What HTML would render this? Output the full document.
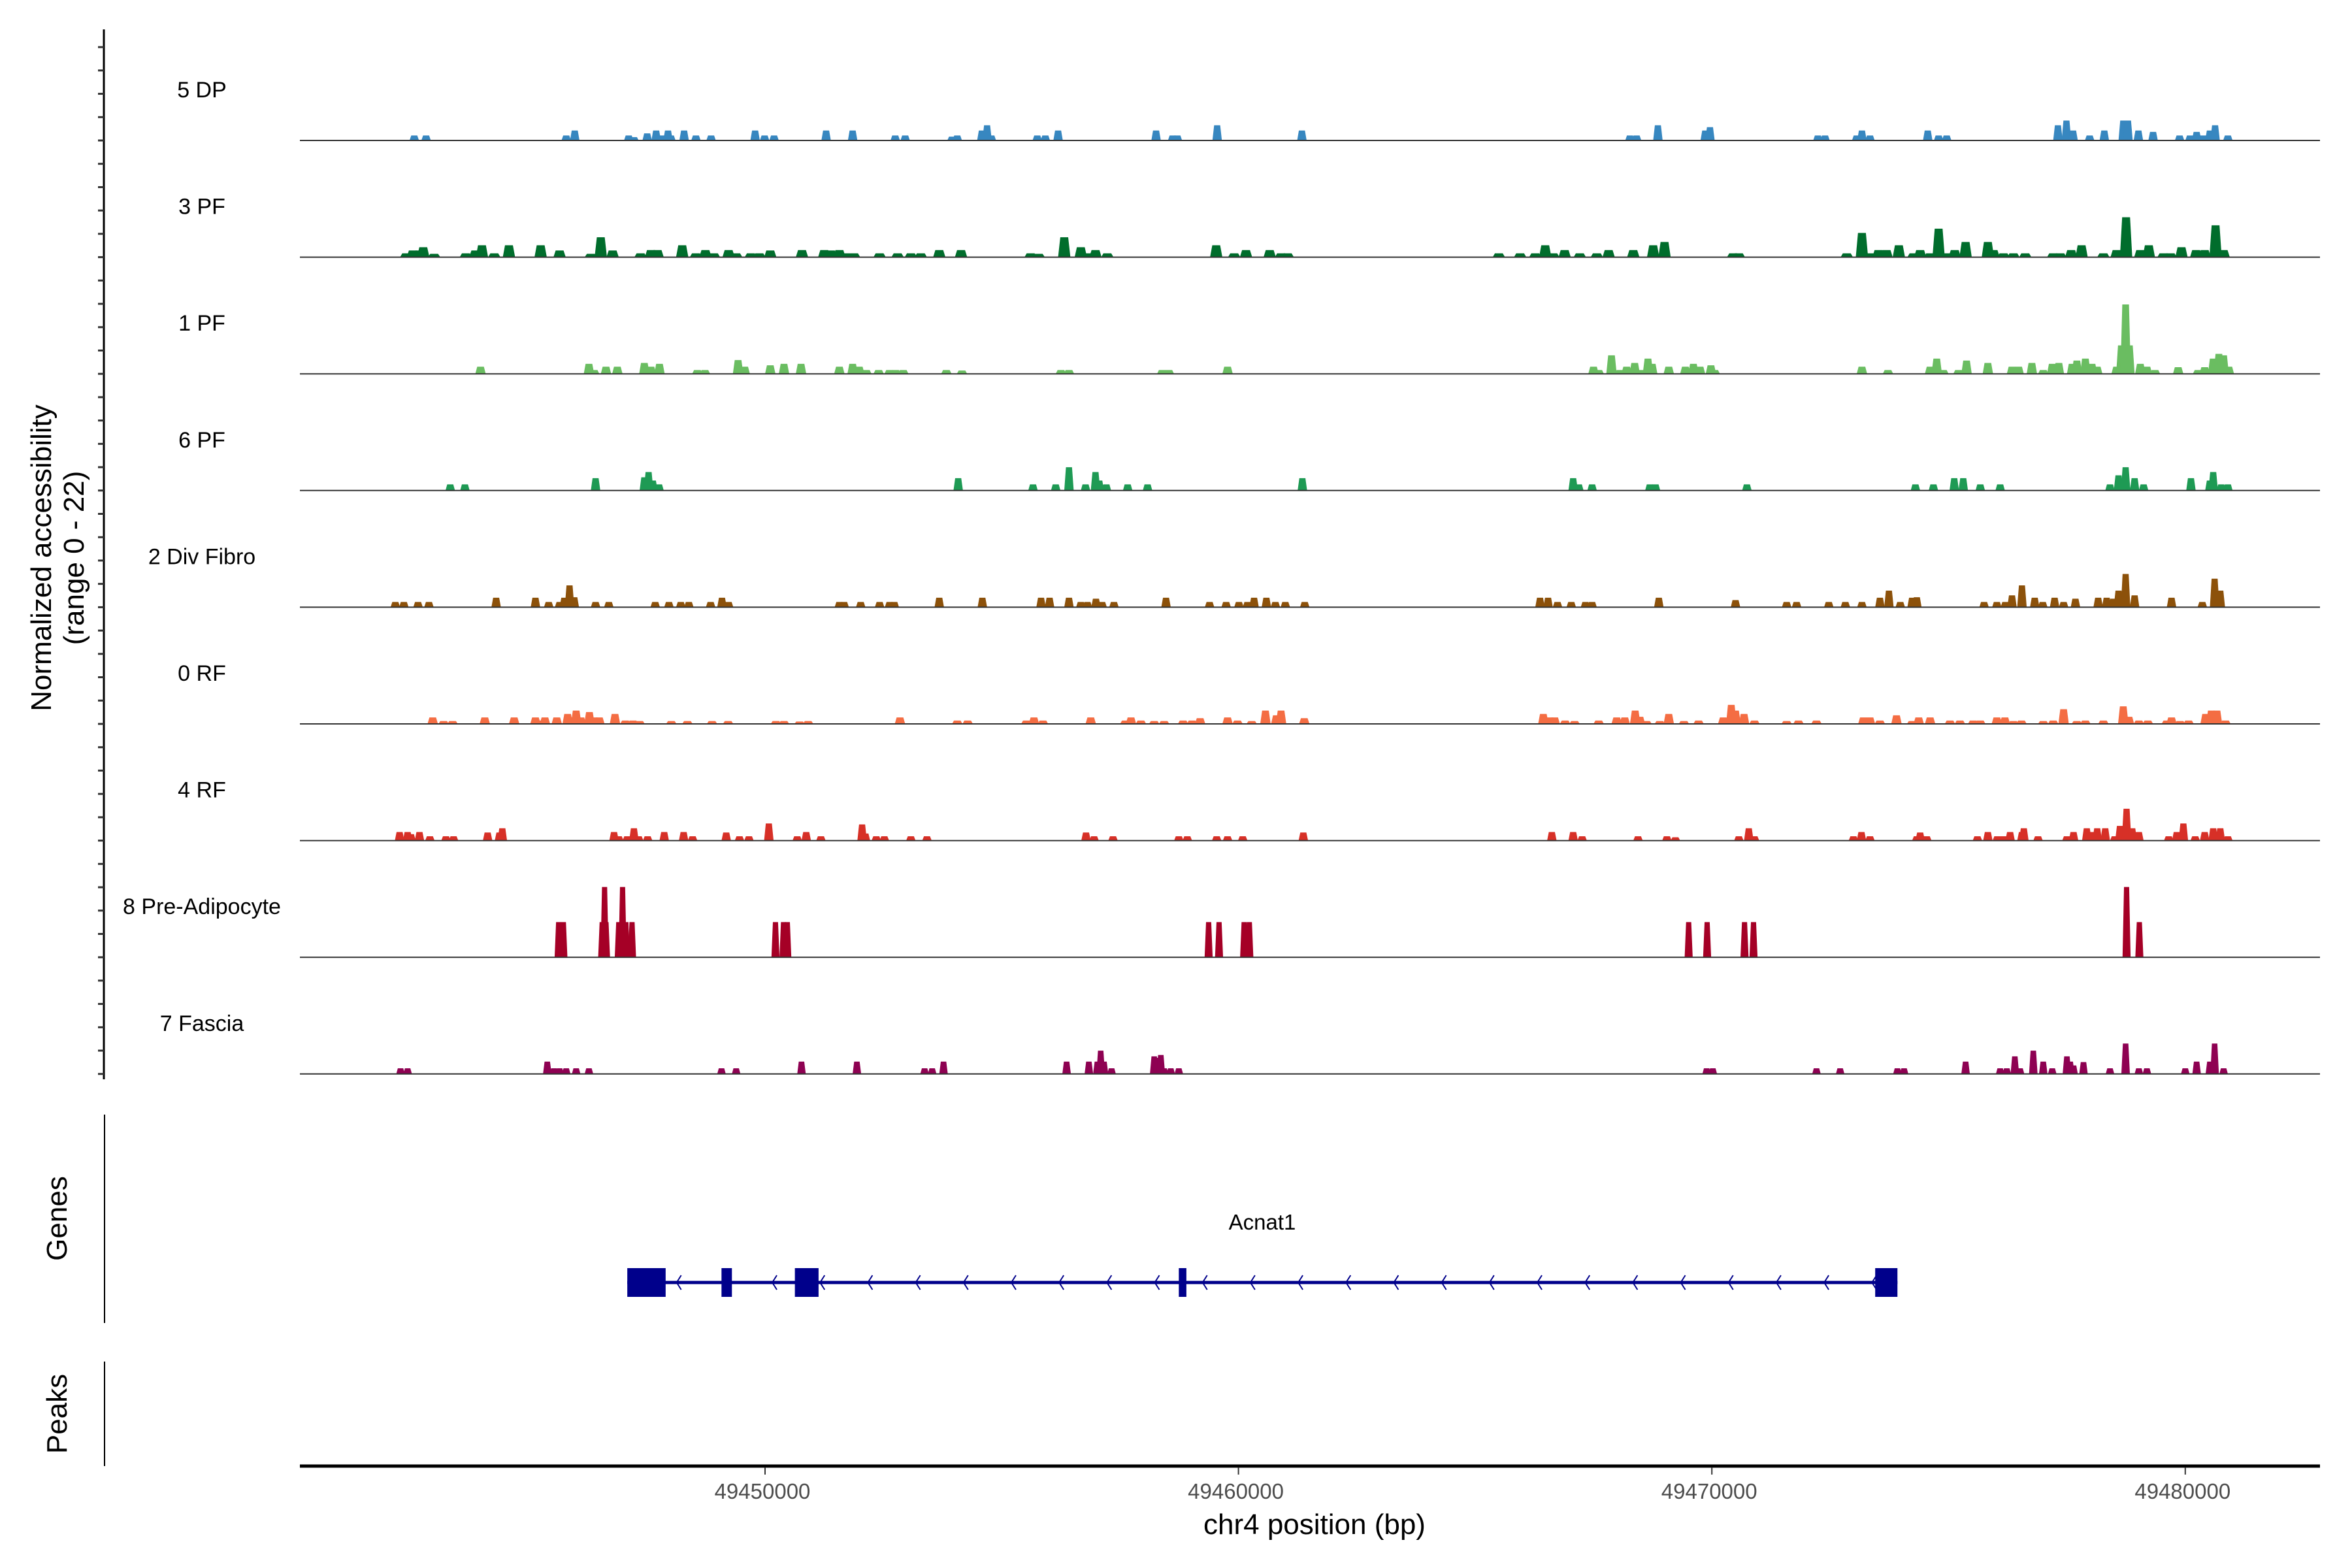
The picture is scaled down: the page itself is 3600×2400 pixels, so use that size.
<!DOCTYPE html>
<html><head><meta charset="utf-8">
<style>
html,body{margin:0;padding:0;background:#fff;}
svg{display:block;font-family:"Liberation Sans",Arial,sans-serif;}
</style></head>
<body>
<svg id="chart" width="3600" height="2400" viewBox="0 0 3600 2400" xmlns="http://www.w3.org/2000/svg">
<g id="tracks"></g>
<g id="axes"></g>
<g id="genes"></g>
<text transform="translate(78,854) rotate(-90)" text-anchor="middle" font-size="44" fill="#000">Normalized accessibility</text>
<text transform="translate(128,854) rotate(-90)" text-anchor="middle" font-size="44" fill="#000">(range 0 - 22)</text>
<text transform="translate(102,1865) rotate(-90)" text-anchor="middle" font-size="44" fill="#000">Genes</text>
<text transform="translate(102,2164) rotate(-90)" text-anchor="middle" font-size="44" fill="#000">Peaks</text>
<text x="2012" y="2348" text-anchor="middle" font-size="44" fill="#000">chr4 position (bp)</text>
</svg>
<script>
// ---- data ----
const trackNames = ["5 DP","3 PF","1 PF","6 PF","2 Div Fibro","0 RF","4 RF","8 Pre-Adipocyte","7 Fascia"];
const trackColors = ["#3787c0","#006d2c","#6abd61","#1e9a54","#8c510a","#f46d43","#d73027","#a50026","#8e0152"];
const xTicksKb = [50,60,70,80];
const xTickLabels = ["49450000","49460000","49470000","49480000"];
const baseBp = 49400000;
const yMax = 22;

const dp5 = [[42.59,1.05],[42.84,1.05],[45.80,1.05],[45.98,2.1],[47.12,1.05],[47.23,0.7],[47.51,1.5],[47.70,2.1],[47.84,1.05],[47.95,2.1],[48.01,1.05],[48.29,2.1],[48.54,1.05],[48.86,1.05],[49.79,2.1],[49.99,1.05],[50.19,1.05],[51.29,2.1],[51.85,2.1],[52.75,1.05],[52.96,1.05],[53.95,0.8],[54.06,1.05],[54.58,2.1],[54.69,3.2],[54.78,1.05],[55.75,1.05],[55.92,1.05],[56.19,2.1],[58.26,2.1],[58.61,1.05],[58.71,1.05],[59.55,3.2],[61.34,2.1],
[68.27,1.05],[68.41,1.05],[68.86,3.2],[69.86,2.1],[69.96,2.8],[72.24,1.05],[72.39,1.05],[73.06,1.05],[73.17,2.1],[73.34,1.05],[74.56,2.1],[74.79,1.05],[74.96,1.05],[77.31,3.2],[77.49,4.2],[77.63,2.1],[77.98,1.05],[78.29,2.1],[78.69,4.2],[78.79,4.2],[79.01,2.1],[79.32,1.8],[79.88,1.05],[80.10,1.05],[80.24,1.8],[80.38,1.05],[80.52,2.1],[80.63,3.2],[80.90,1.05]];

const pf3 = [[42.42,0.8],[42.56,1.4],[42.70,1.4],[42.78,2.1],[43.01,0.7],[43.68,0.8],[43.88,1.4],[44.02,2.5],[44.28,0.8],[44.59,2.5],[45.26,2.5],[45.66,1.4],[46.32,0.7],[46.53,4.2],[46.78,1.4],[47.37,0.8],[47.59,1.5],[47.73,1.5],[48.25,2.5],[48.54,0.8],[48.74,1.5],[48.92,0.8],[49.23,1.5],[49.39,0.8],[49.70,0.8],[49.88,0.8],[50.11,1.4],[50.78,1.5],[51.25,1.5],[51.39,1.4],[51.57,1.5],[51.71,0.8],[51.88,0.8],[52.42,0.8],[52.80,0.8],[53.08,0.8],[53.29,0.8],[53.68,1.5],[54.14,1.5],[55.61,0.8],[55.78,0.7],[56.32,4.2],[56.67,2.1],[56.81,0.8],[56.98,1.5],[57.23,0.8],[59.53,2.5],[59.91,0.8],[60.16,1.5],[60.66,1.5],[60.90,0.8],[61.04,0.8],
[65.50,0.8],[65.95,0.8],[66.27,0.8],[66.48,2.5],[66.65,0.8],[66.89,1.5],[67.21,0.8],[67.57,0.8],[67.82,1.5],[68.34,1.5],[68.76,2.5],[69.00,3.2],[70.45,0.8],[70.57,0.8],[72.85,0.8],[73.17,5.1],[73.34,0.8],[73.52,1.5],[73.69,1.5],[73.95,2.5],[74.26,0.8],[74.40,1.5],[74.61,0.8],[74.79,6.0],[74.99,0.8],[75.13,1.5],[75.36,3.2],[75.83,3.2],[75.95,1.5],[76.16,0.8],[76.37,0.8],[76.62,0.8],[77.21,0.8],[77.36,0.8],[77.59,1.5],[77.81,2.5],[78.27,0.8],[78.55,1.5],[78.75,8.4],[79.05,1.5],[79.23,2.5],[79.54,0.8],[79.69,0.8],[79.92,2.1],[80.23,1.5],[80.41,1.5],[80.64,6.7],[80.81,1.5]];

const pf1 = [[43.99,1.5],[46.28,2.1],[46.39,0.8],[46.64,1.5],[46.88,1.5],[47.45,2.3],[47.59,1.5],[47.77,2.1],[48.57,0.8],[48.73,0.8],[49.43,2.9],[49.57,1.5],[50.11,1.8],[50.40,2.1],[50.76,2.1],[51.57,1.5],[51.85,2.1],[51.99,1.5],[52.14,0.8],[52.40,0.8],[52.63,0.8],[52.76,0.8],[52.92,0.8],[53.83,0.8],[54.16,0.7],[56.25,0.8],[56.42,0.8],[58.39,0.8],[58.53,0.8],[59.77,1.5],
[67.50,1.5],[67.61,0.8],[67.88,3.9],[68.06,0.8],[68.20,1.5],[68.37,2.3],[68.48,0.8],[68.65,3.2],[68.74,2.1],[69.09,1.5],[69.44,1.5],[69.61,2.1],[69.75,1.5],[69.98,1.8],[70.06,0.8],[73.17,1.5],[73.72,0.8],[74.61,1.5],[74.75,3.2],[74.89,0.8],[75.21,0.8],[75.38,2.8],[75.83,2.3],[76.34,1.5],[76.48,1.5],[76.76,2.3],[77.00,0.8],[77.19,2.1],[77.33,2.3],[77.61,2.1],[77.71,2.8],[77.89,3.2],[78.03,2.1],[78.14,1.5],[78.55,1.5],[78.65,6.0],[78.74,14.6],[78.82,6.0],[79.05,2.1],[79.19,1.5],[79.36,0.8],[79.85,1.4],[80.27,0.8],[80.41,1.4],[80.59,3.2],[80.71,4.2],[80.81,3.9],[80.92,1.5]];

const pf6 = [[43.35,1.3],[43.66,1.3],[46.42,2.6],[47.45,2.8],[47.54,3.9],[47.63,2.1],[47.76,1.3],[54.08,2.6],[55.66,1.3],[56.14,1.3],[56.42,4.9],[56.77,1.3],[56.98,3.9],[57.06,2.1],[57.21,1.3],[57.66,1.3],[58.08,1.3],[61.35,2.6],
[67.07,2.6],[67.19,1.3],[67.47,1.3],[68.69,1.3],[68.81,1.3],[70.74,1.3],[74.30,1.3],[74.68,1.3],[75.12,2.6],[75.31,2.6],[75.67,1.3],[76.09,1.3],[78.41,1.3],[78.59,3.2],[78.74,4.9],[78.93,2.6],[79.12,1.3],[80.12,2.6],[80.52,2.1],[80.59,3.9],[80.76,1.3],[80.90,1.3]];

const divFibro2 = [[42.19,1.1],[42.37,1.1],[42.67,1.1],[42.90,1.1],[44.32,2.0],[45.15,2.0],[45.43,1.1],[45.66,1.1],[45.76,2.0],[45.87,4.6],[45.97,2.1],[46.42,1.1],[46.70,1.1],[47.68,1.1],[47.97,1.1],[48.22,1.1],[48.39,1.1],[48.85,1.1],[49.09,2.0],[49.23,1.1],[51.57,1.1],[51.67,1.1],[52.02,1.1],[52.42,1.1],[52.63,1.1],[52.73,1.1],[53.68,2.0],[54.59,2.0],[55.83,2.0],[56.01,2.0],[56.42,2.0],[56.67,1.1],[56.81,1.1],[56.99,1.8],[57.12,1.1],[57.37,1.1],[58.47,2.0],[59.39,1.1],[59.74,1.1],[60.01,1.1],[60.19,1.1],[60.33,2.0],[60.59,2.0],[60.78,1.1],[60.99,1.1],[61.40,1.1],
[66.37,2.0],[66.54,2.0],[66.74,1.1],[67.03,1.1],[67.33,1.1],[67.47,1.1],[68.88,2.0],[70.50,1.5],[71.58,1.1],[71.79,1.1],[72.47,1.1],[72.82,1.1],[73.17,1.1],[73.55,2.0],[73.74,3.5],[73.98,1.1],[74.23,2.0],[74.33,2.1],[75.75,1.1],[76.02,1.1],[76.20,1.1],[76.34,2.5],[76.55,4.6],[76.82,2.0],[76.99,1.1],[77.24,2.0],[77.43,1.1],[77.68,1.8],[78.16,2.0],[78.34,2.0],[78.48,1.8],[78.59,3.5],[78.74,7.0],[78.93,2.5],[79.71,2.0],[80.36,1.1],[80.62,6.0],[80.74,3.5]];

const rf0 = [[42.98,1.35],[43.21,0.6],[43.40,0.6],[44.08,1.35],[44.70,1.35],[45.15,1.35],[45.26,0.7],[45.35,1.35],[45.60,1.35],[45.83,2.1],[45.94,1.35],[46.01,2.8],[46.11,1.35],[46.29,2.5],[46.39,1.35],[46.50,1.35],[46.83,2.1],[47.05,0.7],[47.21,0.7],[47.35,0.6],[48.02,0.6],[48.36,0.6],[48.88,0.6],[49.22,0.6],[50.23,0.6],[50.40,0.6],[50.73,0.5],[50.91,0.6],[52.85,1.35],[54.06,0.7],[54.28,0.7],[55.52,0.7],[55.68,1.35],[55.87,0.7],[56.88,1.35],[57.61,0.7],[57.73,1.35],[57.94,0.7],[58.22,0.6],[58.43,0.6],[58.83,0.7],[59.02,0.7],[59.19,1.2],[59.77,1.35],[59.98,0.7],[60.28,0.6],[60.57,2.8],[60.80,1.8],[60.90,2.8],[61.39,1.2],
[66.44,2.1],[66.58,1.35],[66.68,1.35],[66.90,0.7],[67.10,0.6],[67.61,0.7],[67.99,1.35],[68.16,1.35],[68.38,2.8],[68.48,1.5],[68.62,0.6],[68.90,0.6],[69.09,2.1],[69.41,0.6],[69.72,0.7],[70.24,1.35],[70.41,4.0],[70.50,2.8],[70.68,2.1],[70.90,0.7],[71.58,0.6],[71.83,0.7],[72.21,0.7],[73.20,1.35],[73.34,1.35],[73.55,0.7],[73.90,1.8],[74.23,0.6],[74.37,1.35],[74.61,1.35],[75.03,0.7],[75.24,0.7],[75.52,0.7],[75.67,0.7],[76.02,1.35],[76.19,1.35],[76.37,0.6],[76.54,0.7],[77.00,0.6],[77.21,0.7],[77.43,3.1],[77.71,0.6],[77.89,0.7],[78.27,0.7],[78.69,3.7],[78.81,1.5],[79.02,0.7],[79.21,0.7],[79.61,0.7],[79.71,1.35],[79.89,0.6],[80.07,0.7],[80.43,2.1],[80.55,2.8],[80.67,2.8],[80.85,0.7]];

const rf4 = [[42.28,1.8],[42.45,1.8],[42.52,1.35],[42.70,1.8],[42.92,0.9],[43.26,0.9],[43.42,0.9],[44.14,1.7],[44.39,1.7],[44.45,2.6],[46.81,1.8],[46.91,0.9],[47.09,0.9],[47.23,2.6],[47.33,0.9],[47.52,0.9],[47.87,1.8],[48.28,1.8],[48.47,0.9],[49.18,1.7],[49.46,0.9],[49.66,0.9],[50.08,3.6],[50.68,0.9],[50.87,1.8],[51.18,0.9],[52.05,3.4],[52.12,1.5],[52.35,0.9],[52.52,0.9],[53.08,0.9],[53.42,0.9],[56.78,1.7],[56.95,0.9],[57.35,0.9],[58.74,0.9],[58.92,0.9],[59.54,0.9],[59.77,0.9],[60.09,0.9],[61.37,1.7],
[66.62,1.8],[67.07,1.8],[67.26,0.9],[68.44,0.9],[69.05,0.9],[69.23,0.7],[70.57,0.9],[70.78,2.6],[70.90,0.9],[72.99,0.9],[73.16,1.8],[73.34,0.9],[74.33,0.9],[74.40,1.7],[74.54,0.9],[75.61,0.9],[75.83,1.8],[76.03,0.9],[76.16,0.9],[76.30,1.8],[76.55,1.8],[76.59,2.6],[76.89,0.9],[77.50,0.9],[77.64,1.8],[77.92,2.6],[78.00,1.8],[78.14,2.6],[78.31,2.6],[78.51,0.9],[78.62,3.1],[78.76,6.7],[78.88,2.6],[79.02,1.8],[79.65,0.9],[79.82,1.8],[79.96,3.6],[80.21,0.9],[80.41,1.8],[80.59,2.6],[80.74,2.6],[80.90,0.9]];

const preAdipo8 = [[45.64,7.4],[45.74,7.4],[46.56,7.4],[46.61,14.8],[46.64,7.4],[46.91,7.4],[46.99,14.8],[47.06,7.4],[47.19,7.4],[50.22,7.4],[50.39,7.4],[50.47,7.4],[59.37,7.4],[59.59,7.4],[60.12,7.4],[60.23,7.4],
[69.51,7.4],[69.90,7.4],[70.69,7.4],[70.88,7.4],[78.76,14.8],[79.03,7.4]];

const fascia7 = [[42.30,1.2],[42.45,1.2],[45.40,2.6],[45.54,1.2],[45.66,1.2],[45.80,1.2],[46.01,1.2],[46.28,1.2],[49.08,1.2],[49.39,1.2],[50.77,2.6],[51.94,2.6],[53.37,1.2],[53.53,1.2],[53.77,2.6],[56.37,2.6],[56.84,2.6],[57.02,2.6],[57.09,4.9],[57.16,2.6],[57.32,1.2],[58.22,3.7],[58.29,3.4],[58.36,4.0],[58.43,1.2],[58.57,1.2],[58.74,1.2],
[69.89,1.2],[70.02,1.2],[72.21,1.2],[72.71,1.2],[73.92,1.2],[74.06,1.2],[75.36,2.6],[76.09,1.2],[76.23,1.2],[76.40,3.7],[76.51,1.2],[76.79,4.9],[77.00,2.6],[77.19,1.2],[77.50,3.7],[77.57,2.6],[77.64,1.8],[77.85,2.5],[78.41,1.2],[78.74,6.4],[79.02,1.2],[79.19,1.2],[80.00,1.2],[80.24,2.6],[80.52,2.6],[80.62,6.4],[80.81,1.2]];

const trackData = [dp5, pf3, pf1, pf6, divFibro2, rf0, rf4, preAdipo8, fascia7];
const trackPeakWidthKb = [0.2,0.26,0.22,0.2,0.2,0.22,0.2,0.17,0.18];

const geneName = "Acnat1";
const geneStartKb = 47.09, geneEndKb = 73.92;
const exonStartKb = [47.09,49.08,50.63,58.74,73.45];
const exonEndKb   = [47.90,49.30,51.13,58.90,73.92];

// ---- layout / scales ----
const NS = "http://www.w3.org/2000/svg";
const plotLeft = 459, plotRight = 3551;
const xScale = kb => 1171 + (kb - 50) * 72.46;
const firstBaseline = 215, trackStep = 178.6;
const unitPx = 7.27;
const yScale = (i, v) => firstBaseline + i * trackStep - v * unitPx;

function mk(tag, attrs, parent){
  const el = document.createElementNS(NS, tag);
  for (const k in attrs) el.setAttribute(k, attrs[k]);
  parent.appendChild(el);
  return el;
}

const tracksG = document.getElementById('tracks');
trackNames.forEach((name, i) => {
  const g = mk('g', {}, tracksG);
  
  
  const base = yScale(i, 0);
  const w = trackPeakWidthKb[i];
  trackData[i].forEach(([kb, v]) => {
    const x0 = xScale(kb - w/2), x1 = xScale(kb + w/2);
    const inset = (x1 - x0) * 0.18;
    const top = yScale(i, v);
    const p = mk('polygon', {points: `${x0},${base} ${x0+inset},${top} ${x1-inset},${top} ${x1},${base}`, fill: trackColors[i]}, g);
    
    
  });
  const line = mk('line', {x1: plotLeft, x2: plotRight, y1: base, y2: base, stroke: '#333', 'stroke-width': 2}, g);
  
  
  const lbl = mk('text', {x: 309, y: base - 66, 'text-anchor': 'middle', 'font-size': 34, fill: '#000'}, g);
  lbl.textContent = name;
  
  
});

// ---- axes ----
const axesG = document.getElementById('axes');
const yAxis = mk('line', {x1: 159, x2: 159, y1: 45, y2: 1652, stroke: '#000', 'stroke-width': 3}, axesG);


for (let i = 0; i < trackNames.length; i++) {
  for (let k = 0; k < 5; k++) {
    const y = yScale(i, 0) - k * trackStep / 5;
    const t = mk('line', {x1: 150, x2: 159, y1: y, y2: y, stroke: '#333', 'stroke-width': 3}, axesG);
    
    
  }
}
const gAxis = mk('line', {x1: 160, x2: 160, y1: 1706, y2: 2025, stroke: '#000', 'stroke-width': 2}, axesG);


const pAxis = mk('line', {x1: 160, x2: 160, y1: 2084, y2: 2244, stroke: '#000', 'stroke-width': 2}, axesG);


const xAxis = mk('line', {x1: plotLeft, x2: plotRight, y1: 2244, y2: 2244, stroke: '#000', 'stroke-width': 5}, axesG);


xTicksKb.forEach((kb, j) => {
  const x = xScale(kb);
  const t = mk('line', {x1: x, x2: x, y1: 2246, y2: 2257, stroke: '#333', 'stroke-width': 2}, axesG);
  
  
  const l = mk('text', {x: x - 4, y: 2294, 'text-anchor': 'middle', 'font-size': 33, fill: '#4d4d4d'}, axesG);
  l.textContent = xTickLabels[j];
  
  
});

// ---- gene model ----
const genesG = document.getElementById('genes');
const gy = 1963;
const intron = mk('line', {x1: xScale(geneStartKb), x2: xScale(geneEndKb), y1: gy, y2: gy, stroke: '#00008b', 'stroke-width': 5}, genesG);


for (let kb = 48.16; kb < geneEndKb - 0.4; kb += 1.01) {
  const x = xScale(kb);
  const c = mk('polyline', {points: `${x+5},${gy-11} ${x-2},${gy} ${x+5},${gy+11}`, fill: 'none', stroke: '#00008b', 'stroke-width': 2}, genesG);
  
  
}
exonStartKb.forEach((s, j) => {
  const x0 = xScale(s), x1 = xScale(exonEndKb[j]);
  const r = mk('rect', {x: x0, y: gy - 22, width: Math.max(x1 - x0, 4), height: 44, fill: '#00008b'}, genesG);
  
  
});
const gl = mk('text', {x: 1932, y: 1882, 'text-anchor': 'middle', 'font-size': 33, fill: '#000'}, genesG);
gl.textContent = geneName;


</script>
</body></html>
